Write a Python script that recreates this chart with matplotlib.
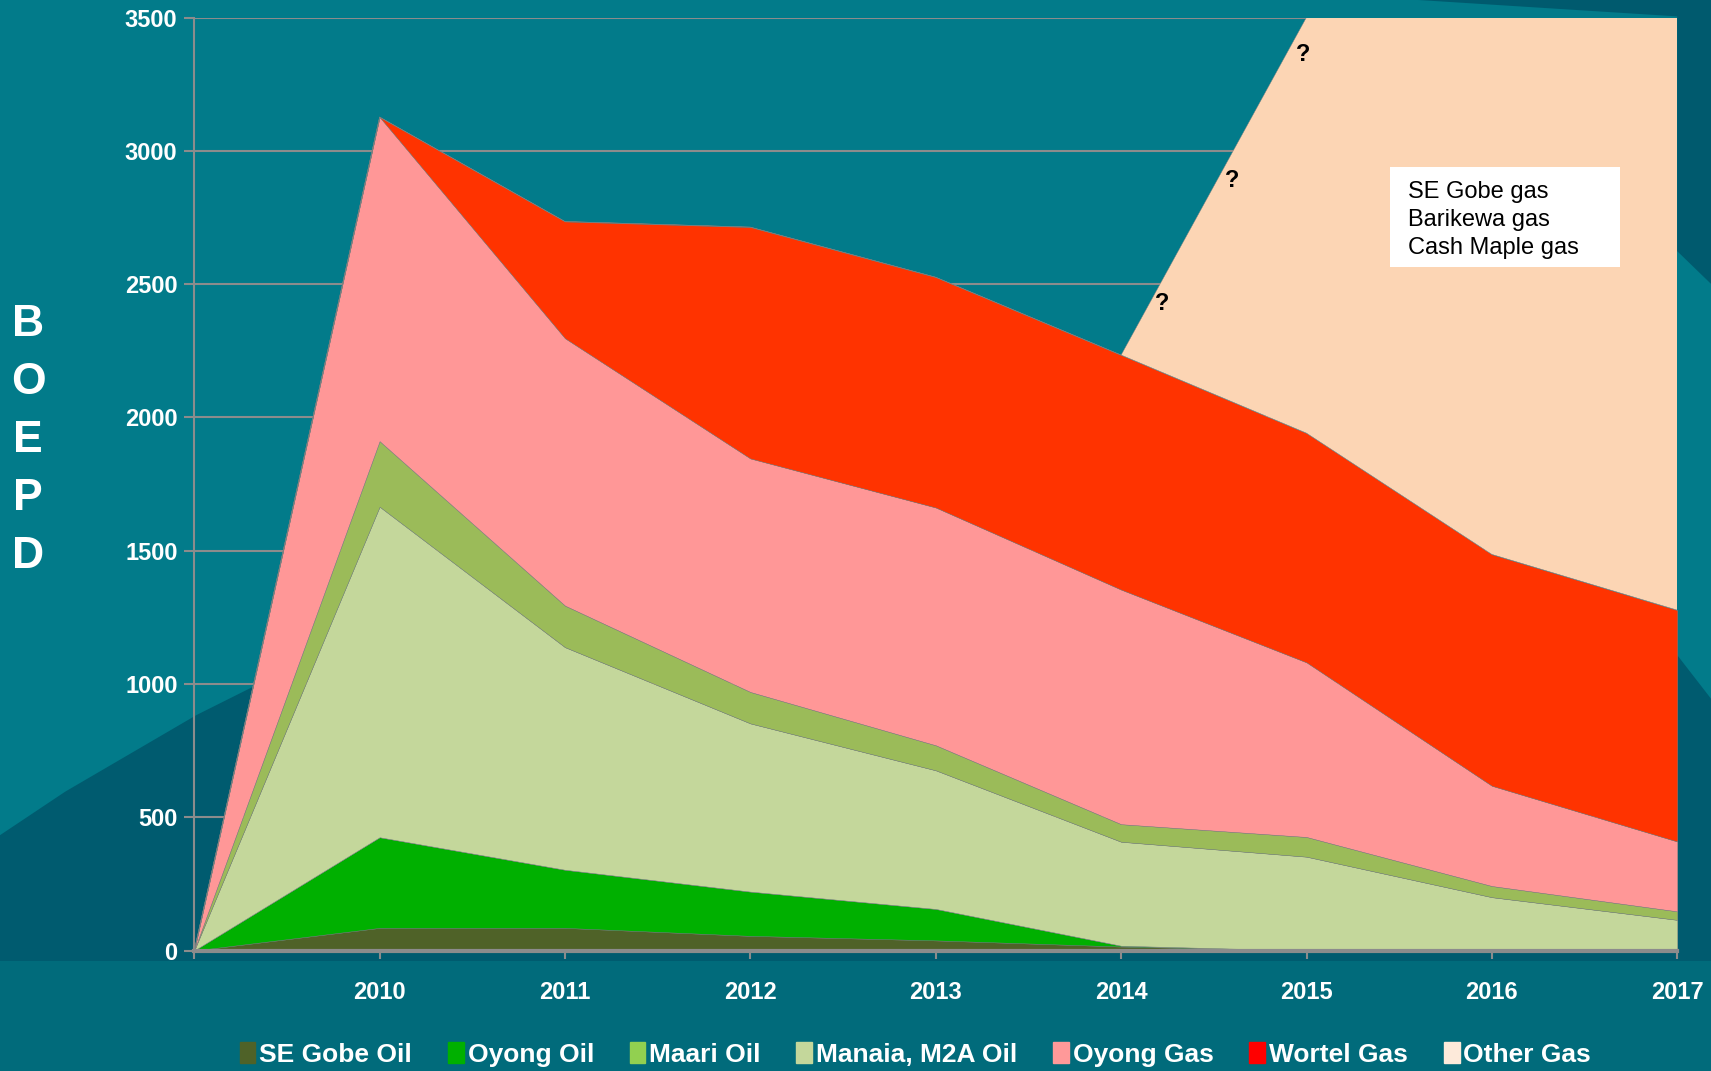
import matplotlib.pyplot as plt
from matplotlib.patches import Patch, Polygon, Rectangle

plt.rcParams['font.family'] = ['Liberation Sans', 'DejaVu Sans']

# Data (BOEPD)
years = [2009, 2010, 2011, 2012, 2013, 2014, 2015, 2016, 2017]
year_labels = ["", "2010", "2011", "2012", "2013", "2014", "2015", "2016", "2017"]
se_gobe_oil = [0, 85, 85, 55, 38, 15, 0, 0, 0]
oyong_oil = [0, 340, 218, 166, 118, 3, 0, 0, 0]
manaia_oil = [0, 1240, 835, 631, 520, 390, 352, 200, 115]
maari_oil = [0, 246, 156, 118, 94, 66, 74, 42, 32]
oyong_gas = [0, 1216, 1003, 876, 892, 880, 655, 376, 262]
wortel_gas = [0, 0, 438, 868, 864, 880, 860, 868, 868]
other_gas = [0, 0, 0, 0, 0, 0, 1560, 3000, 3200]

legend_names = ["SE Gobe Oil", "Oyong Oil", "Maari Oil", "Manaia, M2A Oil",
                "Oyong Gas", "Wortel Gas", "Other Gas"]
legend_colors = ["#4F6228", "#00B000", "#92D050", "#C4D79B",
                 "#FF9999", "#FF0000", "#FDEADA"]

other_fields = ["SE Gobe gas", "Barikewa gas", "Cash Maple gas"]
question_marks = [(2014.98, 3361), (2014.60, 2887), (2014.22, 2428)]

fig = plt.figure(figsize=(17.11, 10.71), dpi=100)
fig.patch.set_facecolor("#027B8A")

# background swooshes
W, H = 1568.0, 981.0
def fpoly(pts, color):
    p = Polygon([(x / W, 1 - y / H) for x, y in pts], closed=True,
                transform=fig.transFigure, facecolor=color, edgecolor="none", zorder=-10)
    fig.patches.append(p)

fpoly([(0, 765), (60, 725), (120, 690), (180, 655), (260, 615), (350, 575),
       (480, 520), (700, 450), (1000, 380), (1400, 420), (1537, 600), (1568, 640),
       (1568, 981), (0, 981)], "#005B6F")
fpoly([(0, 880), (1568, 880), (1568, 981), (0, 981)], "#016B7B")
fpoly([(1300, 0), (1568, 0), (1568, 260), (1537, 230), (1537, 15)], "#005A6E")

ax = fig.add_axes([0.1135, 0.1125, 0.8668, 0.8711])
ax.set_facecolor("none")

stack = [se_gobe_oil, oyong_oil, manaia_oil, maari_oil, oyong_gas, wortel_gas, other_gas]
stack_colors = ["#4F6228", "#00B000", "#C4D79B", "#9BBB59", "#FF9797", "#FF3300", "#FCD5B4"]
ax.stackplot(years, *stack, colors=stack_colors, edgecolor="#7F7F7F", linewidth=0.3, zorder=2)

ax.set_xlim(2009, 2017)
ax.set_ylim(0, 3500)
ax.set_yticks(range(0, 3501, 500))
ax.set_xticks(years)
ax.set_xticklabels(year_labels)

ax.grid(axis="y", color="#8C8C8C", linewidth=1.5)
ax.set_axisbelow(True)
for s in ["top", "right"]:
    ax.spines[s].set_visible(False)
ax.spines["left"].set_color("#8C8C8C")
ax.spines["left"].set_linewidth(1.5)
ax.spines["bottom"].set_color("#8C8C8C")
ax.spines["bottom"].set_linewidth(3)
ax.spines["bottom"].set_zorder(5)

ax.tick_params(axis="x", colors="#8C8C8C", length=6, width=1.5, pad=16, labelcolor="white")
ax.tick_params(axis="y", colors="#8C8C8C", length=7, width=1.5, pad=5, labelcolor="white")
for lab in ax.get_xticklabels() + ax.get_yticklabels():
    lab.set_fontsize(17)
    lab.set_fontweight("bold")

# vertical axis title
for i, ch in enumerate("BOEPD"):
    fig.text(28 / 1711, 1 - (325 + i * 57.8) / 1071, ch, color="white", fontsize=32,
             fontweight="bold", ha="center", va="center")

# question marks
for qx, qy in question_marks:
    ax.text(qx, qy, "?", color="black", fontsize=17, fontweight="bold",
            ha="center", va="center", zorder=6)

# info box
ax.add_patch(Rectangle((0.806, 0.7326), 0.1556, 0.1072, transform=ax.transAxes,
                       facecolor="white", edgecolor="none", zorder=6))
ax.text(0.8186, 0.783, "\n".join(other_fields), transform=ax.transAxes, color="black",
        fontsize=17, ha="left", va="center", linespacing=1.36, zorder=7)

handles = [Patch(facecolor=c, edgecolor=c) for c in legend_colors]
fig.legend(handles, legend_names, loc="lower center", bbox_to_anchor=(0.535, -0.018),
           ncol=7, frameon=False, handlelength=0.6, handleheight=0.85, handletextpad=0.15,
           columnspacing=1.35, prop={"size": 19, "weight": "bold"}, labelcolor="white")

fig.savefig("out.png", dpi=100, facecolor=fig.get_facecolor())
